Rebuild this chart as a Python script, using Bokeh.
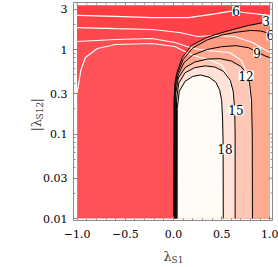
from math import pi
from bokeh.plotting import figure
from bokeh.models import Range1d, FixedTicker, Label, LabelSet, ColumnDataSource
from bokeh.core.properties import value
from bokeh.embed import file_html
from bokeh.resources import INLINE

# ---------------- data extents / ticks ----------------
X_MIN, X_MAX = -1.0, 1.0
Y_MIN, Y_MAX = 0.01, 3.3
X_LO, X_HI = -1.038, 1.028      # frame range
Y_LO, Y_HI = 0.00947, 3.6

x_major = [-1.0, -0.5, 0.0, 0.5, 1.0]
x_major_labels = ["\u22121.0", "\u22120.5", "0.0", "0.5", "1.0"]
x_minor = [-0.9, -0.8, -0.7, -0.6, -0.4, -0.3, -0.2, -0.1,
           0.1, 0.2, 0.3, 0.4, 0.6, 0.7, 0.8, 0.9]
y_major = [0.01, 0.03, 0.1, 0.3, 1.0, 3.0]
y_major_labels = ["0.01", "0.03", "0.1", "0.3", "1", "3"]
y_minor = [0.02, 0.04, 0.05, 0.06, 0.07, 0.08, 0.09,
           0.2, 0.4, 0.5, 0.6, 0.7, 0.8, 0.9, 2.0]

# ---------------- black contour lines (levels 3..18) ----------------
c3_x = [0.003, 0.006, 0.015, 0.033, 0.09, 0.185, 0.346, 0.507, 0.583, 0.773, 0.943, 1.0]
c3_y = [0.01, 0.25, 0.40, 0.52, 0.80, 1.115, 1.39, 1.59, 1.68, 1.92, 2.09, 2.14]
c6_x = [0.008, 0.010, 0.022, 0.045, 0.10, 0.20, 0.35, 0.50, 0.65, 0.80, 0.90, 1.0]
c6_y = [0.01, 0.28, 0.42, 0.53, 0.76, 1.04, 1.30, 1.48, 1.60, 1.68, 1.66, 1.55]
c9_x = [0.015, 0.016, 0.03, 0.055, 0.11, 0.20, 0.35, 0.50, 0.65, 0.78, 0.87, 0.95, 1.0]
c9_y = [0.01, 0.30, 0.42, 0.52, 0.70, 0.86, 1.00, 1.08, 1.11, 1.05, 0.93, 0.84, 0.80]
c12_x = [0.022, 0.023, 0.05, 0.12, 0.22, 0.35, 0.48, 0.60, 0.70, 0.76, 0.79, 0.81, 0.818, 0.82]
c12_y = [0.01, 0.30, 0.46, 0.61, 0.71, 0.77, 0.78, 0.73, 0.63, 0.52, 0.40, 0.25, 0.10, 0.01]
c15_x = [0.030, 0.031, 0.055, 0.12, 0.22, 0.33, 0.43, 0.52, 0.59, 0.62, 0.635, 0.64, 0.64]
c15_y = [0.01, 0.25, 0.40, 0.53, 0.61, 0.64, 0.62, 0.55, 0.43, 0.32, 0.20, 0.10, 0.01]
c18_x = [0.038, 0.039, 0.06, 0.12, 0.20, 0.28, 0.37, 0.44, 0.48, 0.50, 0.51, 0.515, 0.517]
c18_y = [0.01, 0.20, 0.32, 0.42, 0.48, 0.50, 0.47, 0.41, 0.33, 0.25, 0.15, 0.08, 0.01]

# ---------------- white contour lines ----------------
w1_x = [-1.0, -0.602, -0.223, 0.156, 0.393, 0.583, 0.649, 0.725, 1.0]
w1_y = [2.53, 2.46, 2.39, 2.39, 2.60, 2.82, 2.85, 2.74, 2.53]
w2_x = [-1.0, -0.602, -0.223, 0.062, 0.251, 0.441, 0.63, 0.82, 1.0]
w2_y = [1.82, 1.77, 1.725, 1.59, 1.425, 1.465, 1.425, 1.21, 0.92]
w3_x = [-1.0, -0.602, -0.223, 0.014, 0.204, 0.346, 0.583, 0.706, 0.773, 0.801, 0.81]
w3_y = [1.243, 1.313, 1.349, 1.21, 1.028, 0.973, 0.921, 0.741, 0.492, 0.270, 0.19]
w4_x = [-1.0, -0.962, -0.915, -0.791, -0.602, -0.223, 0.014, 0.204, 0.393, 0.507, 0.583, 0.611, 0.63]
w4_y = [0.31, 0.564, 0.804, 1.028, 1.146, 1.178, 1.085, 0.849, 0.741, 0.647, 0.430, 0.286, 0.22]

# ---------------- contour labels ----------------
lab_x = [0.962, 1.005, 0.867, 0.754, 0.649, 0.536]
lab_y = [2.20, 1.47, 0.921, 0.492, 0.190, 0.0656]
lab_t = ["3", "6", "9", "12", "15", "18"]
wlab_x = [0.649]
wlab_y = [2.85]
wlab_t = ["6"]

# ---------------- colours ----------------
red_bands = ["#FF5158", "#FF4C53", "#FF474D", "#FF4246", "#FF3C3F"]
allowed_bands = ["#FF8C6E", "#FF9B80", "#FFAB92", "#FFC8B6", "#FFE3D9", "#FFFBF6"]

FONT = "DejaVu Serif"
GRAY = "#8C8C8C"

p = figure(width=278, height=267,
           x_range=Range1d(X_LO, X_HI), y_range=Range1d(Y_LO, Y_HI),
           y_axis_type="log", output_backend="svg", toolbar_location=None,
           min_border_left=54, min_border_right=6, min_border_top=2,
           min_border_bottom=47)
p.background_fill_color = "white"
p.border_fill_color = "white"
p.outline_line_color = GRAY
p.xgrid.visible = False
p.ygrid.visible = False

p.quad(left=[X_MIN], right=[X_MAX], bottom=[Y_MIN], top=[Y_MAX],
       fill_color=red_bands[0], line_color=None)

for (wx, wy), col in zip([(w4_x, w4_y), (w3_x, w3_y), (w2_x, w2_y), (w1_x, w1_y)],
                         red_bands[1:]):
    xs = wx + [X_MAX, X_MAX, X_MIN]
    ys = wy + [wy[-1], Y_MAX, Y_MAX]
    p.patch(xs, ys, fill_color=col, line_color=None)

contours = [(c3_x, c3_y), (c6_x, c6_y), (c9_x, c9_y),
            (c12_x, c12_y), (c15_x, c15_y), (c18_x, c18_y)]
for (cx, cy), col in zip(contours, allowed_bands):
    if cy[-1] > Y_MIN:
        xs = cx + [X_MAX]
        ys = cy + [Y_MIN]
    else:
        xs, ys = cx, cy
    p.patch(xs, ys, fill_color=col, line_color=None)

for wx, wy in [(w1_x, w1_y), (w2_x, w2_y), (w3_x, w3_y), (w4_x, w4_y)]:
    p.line(wx, wy, line_color="white", line_width=1.2)

for cx, cy in contours:
    p.line(cx, cy, line_color="black", line_width=1.0)

# mirrored frame ticks on top and right
p.ray(x=x_major, y=[Y_HI] * len(x_major), length=4, length_units="screen",
      angle=-pi / 2, line_color=GRAY, line_width=1)
p.ray(x=x_minor, y=[Y_HI] * len(x_minor), length=2, length_units="screen",
      angle=-pi / 2, line_color=GRAY, line_width=1)
p.ray(x=[X_HI] * len(y_major), y=y_major, length=4, length_units="screen",
      angle=pi, line_color=GRAY, line_width=1)
p.ray(x=[X_HI] * len(y_minor), y=y_minor, length=2, length_units="screen",
      angle=pi, line_color=GRAY, line_width=1)

for lx, ly, lt in [(lab_x, lab_y, lab_t), (wlab_x, wlab_y, wlab_t)]:
    src = ColumnDataSource(dict(x=lx, y=ly, t=lt))
    p.add_layout(LabelSet(x="x", y="y", text="t", source=src,
                          text_font=value(FONT), text_font_size=value("12px"),
                          text_color="black", text_align="center",
                          text_baseline="middle",
                          background_fill_color="white"))

xt = FixedTicker(ticks=x_major, minor_ticks=x_minor)
yt = FixedTicker(ticks=y_major, minor_ticks=y_minor)

for ax in (p.xaxis[0], p.yaxis[0]):
    ax.axis_line_color = GRAY
    ax.major_tick_line_color = GRAY
    ax.minor_tick_line_color = GRAY
    ax.major_tick_in = 4
    ax.major_tick_out = 0
    ax.minor_tick_in = 2
    ax.minor_tick_out = 0
    ax.major_label_text_font = FONT
    ax.major_label_text_font_size = "11px"
    ax.major_label_text_color = "black"

p.xaxis.ticker = xt
p.xaxis.major_label_overrides = {v: s for v, s in zip(x_major, x_major_labels)}
p.xaxis.major_label_standoff = 9
p.yaxis.ticker = yt
p.yaxis.major_label_overrides = {v: s for v, s in zip(y_major, y_major_labels)}
p.yaxis.major_label_standoff = 6

# x title (lambda with subscript), placed in the lower side panel
p.add_layout(Label(x=0.0, y=Y_LO, x_offset=-10, y_offset=-36,
                   text="\u03bb", text_font=FONT, text_font_size="13px",
                   text_align="left", text_baseline="alphabetic"), "below")
p.add_layout(Label(x=0.0, y=Y_LO, x_offset=-2, y_offset=-39,
                   text="S1", text_font=FONT, text_font_size="9px",
                   text_align="left", text_baseline="alphabetic"), "below")

# y title |lambda_S12|, rotated, placed in the left side panel
p.add_layout(Label(x=X_LO, y=Y_LO, x_offset=-37, y_offset=89, angle=pi / 2,
                   text="|\u03bb", text_font=FONT, text_font_size="13px",
                   text_align="left", text_baseline="alphabetic"), "left")
p.add_layout(Label(x=X_LO, y=Y_LO, x_offset=-34, y_offset=101, angle=pi / 2,
                   text="S12", text_font=FONT, text_font_size="9px",
                   text_align="left", text_baseline="alphabetic"), "left")
p.add_layout(Label(x=X_LO, y=Y_LO, x_offset=-37, y_offset=118, angle=pi / 2,
                   text="|", text_font=FONT, text_font_size="13px",
                   text_align="left", text_baseline="alphabetic"), "left")

open("out.html", "w").write(file_html(p, INLINE))
